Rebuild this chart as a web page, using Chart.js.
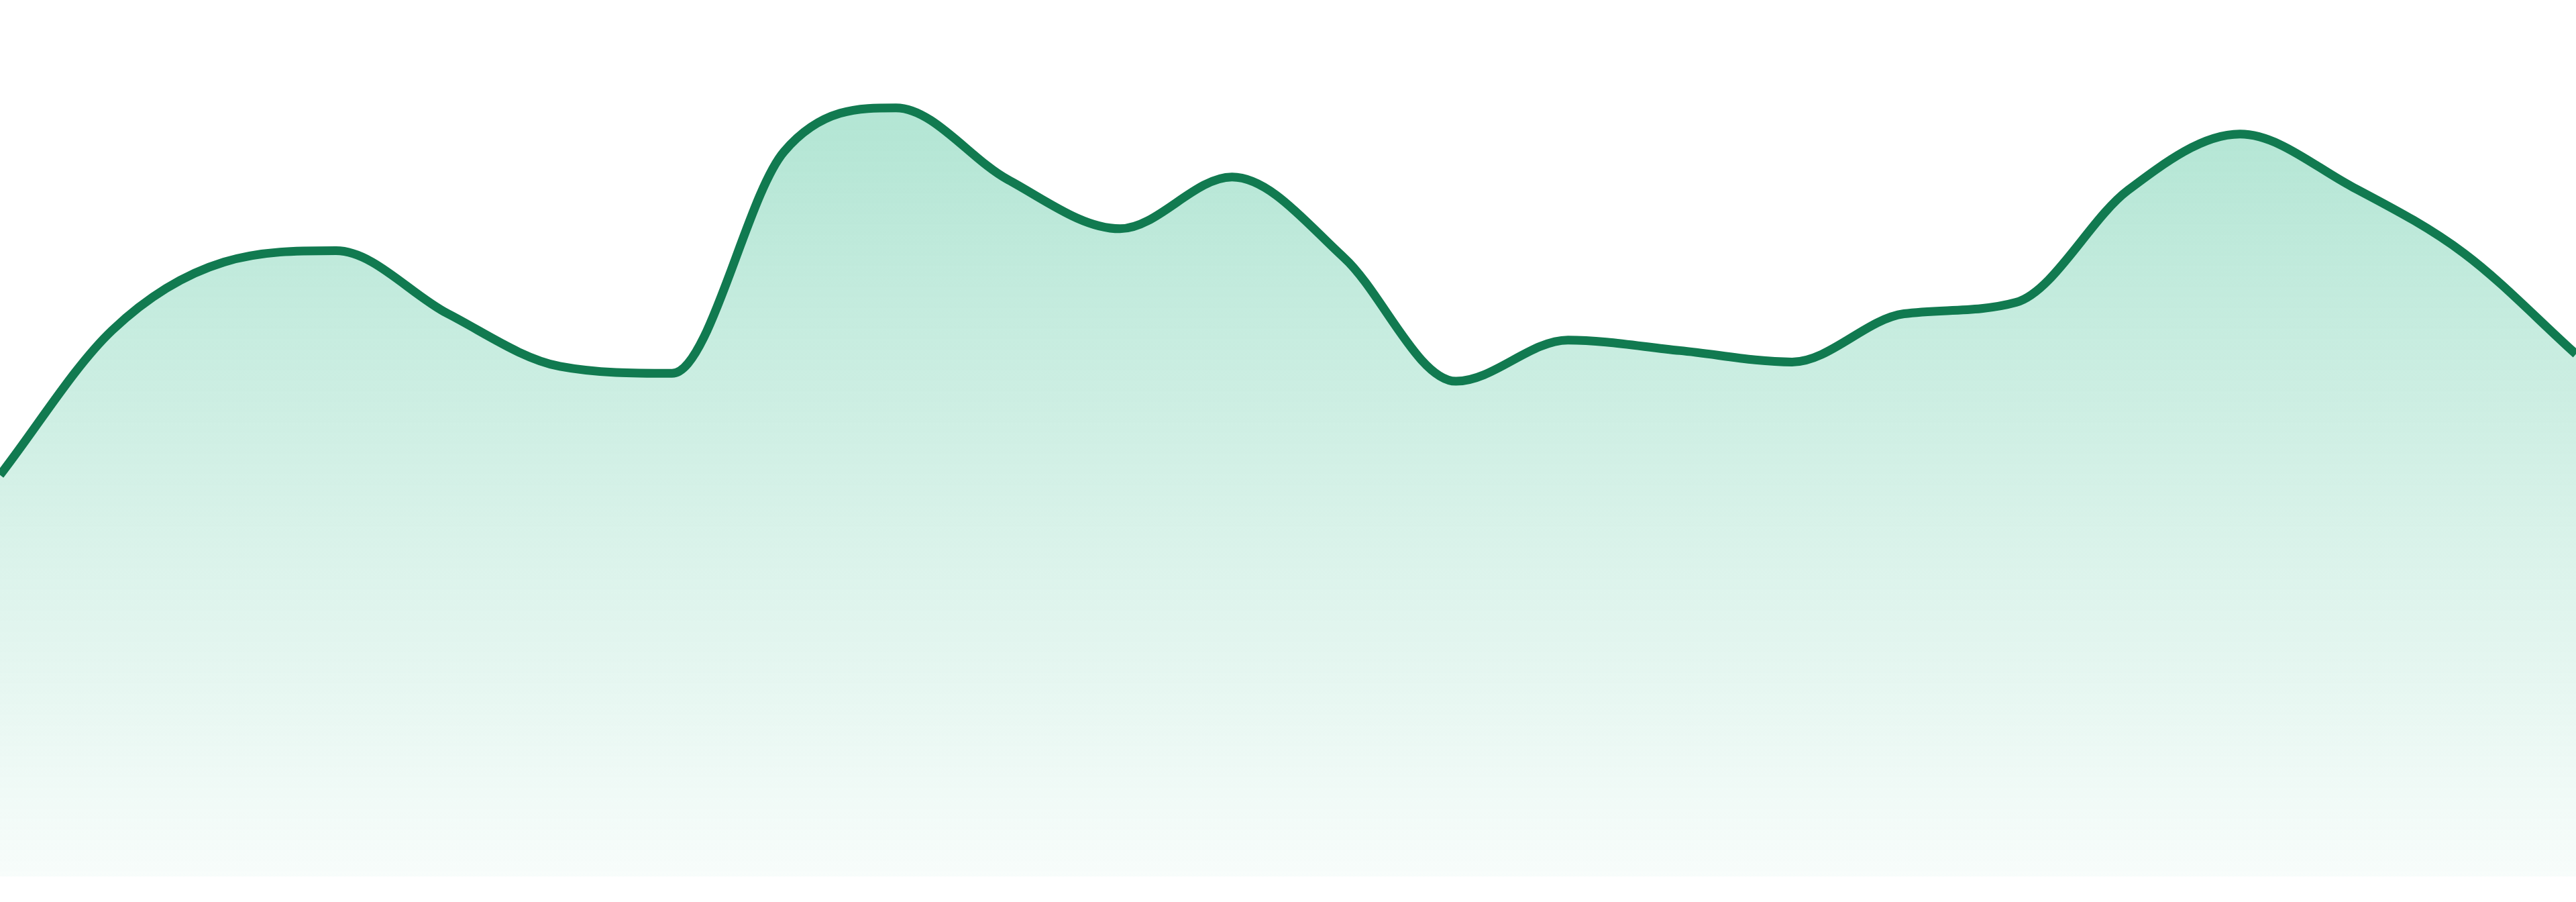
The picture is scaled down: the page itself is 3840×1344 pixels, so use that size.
<!DOCTYPE html>
<html>
<head>
<meta charset="utf-8">
<script src="https://cdn.jsdelivr.net/npm/chart.js@4.4.0/dist/chart.umd.min.js"></script>
<style>
    html, body { margin: 0; padding: 0; background: #ffffff; }
    #wrap { width: 3840px; height: 1344px; position: relative; }
</style>
</head>
<body>
<div id="wrap"><canvas id="trendChart"></canvas></div>
<script>
// one value per step, no labels shown on the chart
const labels = ["1", "2", "3", "4", "5", "6", "7", "8", "9", "10", "11", "12",
                "13", "14", "15", "16", "17", "18", "19", "20", "21", "22", "23", "24"];
const values = [45.8, 62.3, 70.1, 71.4, 64.2, 58.2, 57.4, 82.7, 87.7, 79.5, 73.9, 79.8,
                70.6, 56.5, 61.2, 60.0, 58.7, 64.2, 65.5, 78.3, 84.7, 78.7, 71.1, 59.6];
const yMin = 0;
const yMax = 100;

let chartInstance = null;

window.onload = function () {
    loadChart();
};

function loadChart() {
    const ctx = document.getElementById("trendChart").getContext("2d");

    if (chartInstance) {
        chartInstance.destroy();
    }

    chartInstance = new Chart(ctx, {
        type: "line",
        data: {
            labels: labels,
            datasets: [
                {
                    data: values,
                    borderColor: "#117a50",
                    borderWidth: 13,
                    cubicInterpolationMode: "monotone",
                    pointRadius: 0,
                    fill: "start",
                    backgroundColor: function (context) {
                        const area = context.chart.chartArea;
                        if (!area) return "rgba(16,185,129,0.2)";
                        const g = context.chart.ctx.createLinearGradient(0, area.top, 0, area.bottom);
                        g.addColorStop(0, "rgba(16,175,120,0.36)");
                        g.addColorStop(1, "rgba(16,175,120,0.03)");
                        return g;
                    }
                }
            ]
        },
        options: {
            responsive: true,
            maintainAspectRatio: false,
            animation: false,
            layout: { padding: { top: 0, left: 0, right: 0, bottom: 38 } },
            plugins: {
                legend: { display: false },
                tooltip: { enabled: false }
            },
            scales: {
                x: { display: false, offset: false },
                y: { display: false, min: yMin, max: yMax }
            }
        }
    });
}
</script>
</body>
</html>
